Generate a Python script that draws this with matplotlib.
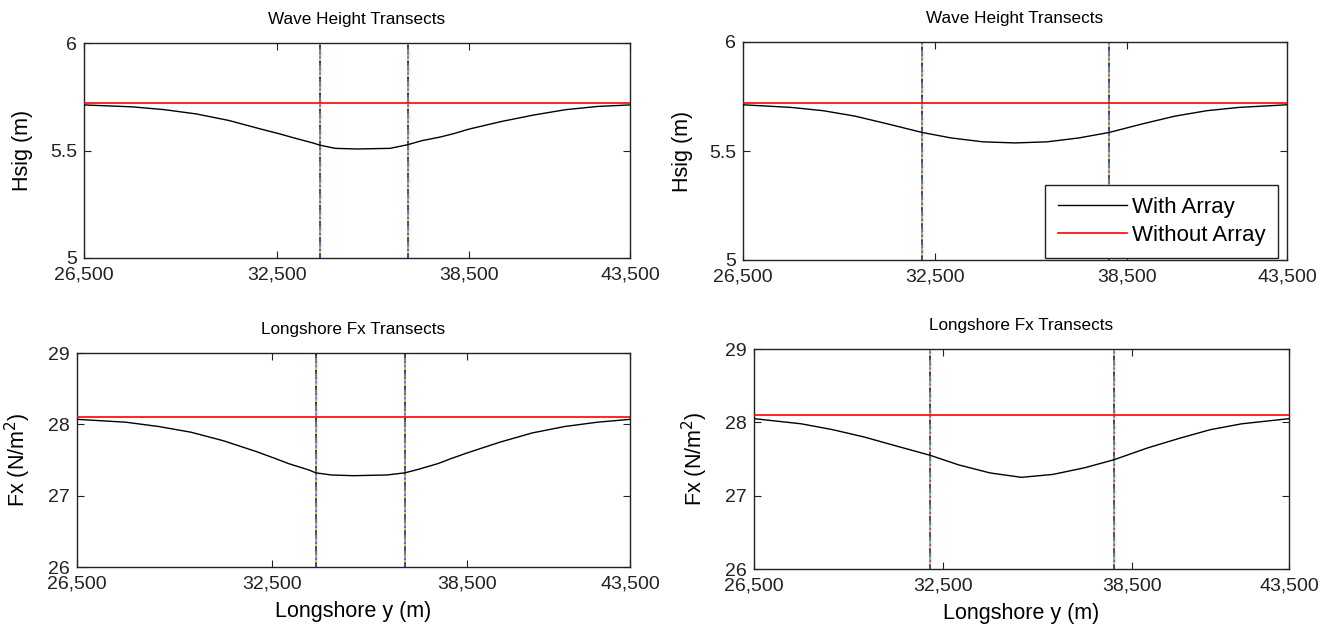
# -*- coding: utf-8 -*-

"""Wave height and longshore force transects, with and without the array."""

import matplotlib
matplotlib.use('Agg')
import matplotlib.pyplot as plt
import matplotlib.ticker as ticker

plt.rcParams['font.family'] = ['Liberation Sans', 'DejaVu Sans']

X_TICKS = [26500, 32500, 38500, 43500]
X_LIM = (26500, 43500)

# left column: narrow array, right column: wide array
ARRAY_EDGES_LEFT = [33840, 36580]
ARRAY_EDGES_RIGHT = [32100, 37940]

HS_LEFT_Y = [26500, 28000, 29000, 30000, 31000, 32000, 32600, 33000, 33630, 33840,
             34320, 35000, 36030, 36580, 37000, 37600, 38000, 38500, 39500, 40500,
             41500, 42500, 43500]
HS_LEFT = [5.712, 5.703, 5.69, 5.67, 5.64, 5.60, 5.577, 5.56, 5.535, 5.525,
           5.51, 5.507, 5.51, 5.527, 5.545, 5.563, 5.578, 5.60, 5.635, 5.665,
           5.69, 5.705, 5.712]

HS_RIGHT_Y = [26500, 28000, 29000, 30000, 31000, 32100, 33000, 34000, 35000, 36000,
              37000, 37940, 39000, 40000, 41000, 42000, 43500]
HS_RIGHT = [5.712, 5.70, 5.685, 5.66, 5.625, 5.585, 5.56, 5.542, 5.537, 5.542,
            5.56, 5.585, 5.625, 5.66, 5.685, 5.70, 5.712]

FX_LEFT_Y = HS_LEFT_Y
FX_LEFT = [28.07, 28.03, 27.97, 27.89, 27.77, 27.62, 27.52, 27.45, 27.36, 27.32,
           27.29, 27.28, 27.29, 27.32, 27.37, 27.45, 27.52, 27.60, 27.75, 27.88,
           27.97, 28.03, 28.07]

FX_RIGHT_Y = HS_RIGHT_Y
FX_RIGHT = [28.05, 27.98, 27.90, 27.80, 27.68, 27.55, 27.42, 27.31, 27.25, 27.29,
            27.38, 27.49, 27.65, 27.78, 27.90, 27.98, 28.05]

HS_NO_ARRAY = 5.722
FX_NO_ARRAY = 28.10

EDGE_COLORS = ['b', 'g', 'r', 'c', 'm', 'y', 'k']

TICK_SIZE = 14
LABEL_SIZE = 15.5
TITLE_SIZE = 12.3


def draw_panel(ax, y, vals, base, edges, ylim, yticks, ylabel, ylabel_x, title, xlabel=None):
    """One transect panel, MATLAB look."""
    n = len(EDGE_COLORS)
    for edge in edges:
        for i, c in enumerate(EDGE_COLORS):
            ax.axvline(edge, color=c, lw=1.1, linestyle=(i * 1.5, (1.5, 1.5 * (n - 1))), zorder=2)
    ax.plot(y, vals, color='black', lw=1.0, label='With Array', zorder=3)
    ax.plot(X_LIM, [base, base], color='red', lw=1.2, label='Without Array', zorder=3)
    ax.set_xlim(*X_LIM)
    ax.set_ylim(*ylim)
    ax.set_xticks(X_TICKS)
    ax.set_yticks(yticks)
    ax.xaxis.set_major_formatter(ticker.FuncFormatter(lambda v, p: '{:,}'.format(int(v))))
    ax.yaxis.set_major_formatter(ticker.FuncFormatter(lambda v, p: '%g' % v))
    ax.tick_params(direction='in', length=5, width=0.8, top=True, right=True,
                   labelsize=TICK_SIZE, colors='#222222')
    ax.tick_params(axis='x', pad=6)
    ax.tick_params(axis='y', pad=5)
    for s in ax.spines.values():
        s.set_color('#222222')
        s.set_linewidth(1.0)
    ax.set_ylabel(ylabel, fontsize=LABEL_SIZE)
    ax.yaxis.set_label_coords(ylabel_x, 0.5)
    ax.set_title(title, fontsize=TITLE_SIZE, pad=14)
    if xlabel:
        ax.set_xlabel(xlabel, fontsize=LABEL_SIZE, labelpad=6)


W, H = 1330, 632
fig = plt.figure(figsize=(W / 100, H / 100), dpi=100)


def box(left, top, right, bottom):
    return [left / W, 1 - bottom / H, (right - left) / W, (bottom - top) / H]


ax_tl = fig.add_axes(box(84, 43, 630, 258))
ax_tr = fig.add_axes(box(743, 42, 1287, 260))
ax_bl = fig.add_axes(box(77, 353, 630, 567))
ax_br = fig.add_axes(box(754, 349, 1289, 569))

draw_panel(ax_tl, HS_LEFT_Y, HS_LEFT, HS_NO_ARRAY, ARRAY_EDGES_LEFT, (5, 6), [5, 5.5, 6],
           'Hsig (m)', -0.093, 'Wave Height Transects')
draw_panel(ax_tr, HS_RIGHT_Y, HS_RIGHT, HS_NO_ARRAY, ARRAY_EDGES_RIGHT, (5, 6), [5, 5.5, 6],
           'Hsig (m)', -0.092, 'Wave Height Transects')
draw_panel(ax_bl, FX_LEFT_Y, FX_LEFT, FX_NO_ARRAY, ARRAY_EDGES_LEFT, (26, 29), [26, 27, 28, 29],
           'Fx (N/m$^2$)', -0.080, 'Longshore Fx Transects', 'Longshore y (m)')
draw_panel(ax_br, FX_RIGHT_Y, FX_RIGHT, FX_NO_ARRAY, ARRAY_EDGES_RIGHT, (26, 29), [26, 27, 28, 29],
           'Fx (N/m$^2$)', -0.082, 'Longshore Fx Transects', 'Longshore y (m)')

leg = ax_tr.legend(loc='lower right', bbox_to_anchor=(1 - 9 / 544, 2 / 218), borderaxespad=0,
                   fontsize=16, handlelength=3.1, fancybox=False, framealpha=1,
                   edgecolor='#222222', borderpad=0.55, labelspacing=0.3, handletextpad=0.25)
leg.get_frame().set_linewidth(1.0)

fig.savefig('out.png', dpi=100)
